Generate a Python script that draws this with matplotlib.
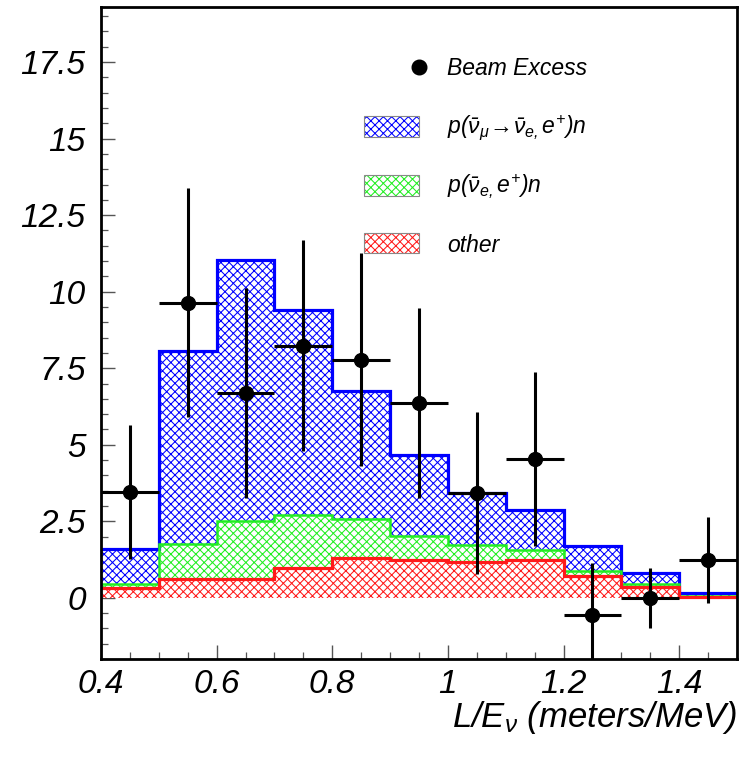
import numpy as np
import matplotlib
matplotlib.use('Agg')
import matplotlib.pyplot as plt
from matplotlib.patches import Rectangle
from matplotlib.lines import Line2D
from matplotlib.ticker import MultipleLocator

plt.rcParams['font.family'] = ['Liberation Sans', 'DejaVu Sans']
plt.rcParams['font.style'] = 'italic'
plt.rcParams['mathtext.fontset'] = 'custom'
plt.rcParams['mathtext.it'] = 'Liberation Sans:italic'
plt.rcParams['mathtext.rm'] = 'Liberation Sans:italic'
plt.rcParams['mathtext.sf'] = 'Liberation Sans:italic'
plt.rcParams['hatch.linewidth'] = 0.75
plt.rcParams['axes.unicode_minus'] = False

# ==========================================
# Data
# ==========================================
bin_edges = [0.4, 0.5, 0.6, 0.7, 0.8, 0.9, 1.0, 1.1, 1.2, 1.3, 1.4, 1.5]
# stacked totals per bin
total_osc = [1.60, 8.05, 11.05, 9.40, 6.75, 4.65, 3.43, 2.88, 1.70, 0.82, 0.16]
nue_plus_other = [0.46, 1.76, 2.52, 2.72, 2.58, 2.03, 1.73, 1.57, 0.88, 0.46, 0.05]
other_bkg = [0.33, 0.62, 0.60, 0.98, 1.30, 1.22, 1.18, 1.22, 0.72, 0.35, 0.02]

x_centers = [0.45, 0.55, 0.65, 0.75, 0.85, 0.95, 1.05, 1.15, 1.25, 1.35, 1.45]
beam_excess = [3.46, 9.64, 6.70, 8.24, 7.78, 6.37, 3.43, 4.54, -0.55, -0.02, 1.24]
excess_err = [2.20, 3.75, 3.43, 3.46, 3.48, 3.10, 2.65, 2.84, 1.70, 0.98, 1.40]
bin_half = [0.05] * len(x_centers)

legend_labels = ['Beam Excess',
                 r'$p(\bar{\nu}_{\mu}\!\rightarrow\!\bar{\nu}_{e,}e^{+})n$',
                 r'$p(\bar{\nu}_{e,}e^{+})n$',
                 'other']

blue = '#0000ff'
green = '#22ee22'
red = '#ff1a1a'

# ==========================================
# Figure
# ==========================================
W, H = 747, 759
fig = plt.figure(figsize=(W / 100, H / 100), dpi=100)
ax = fig.add_axes([101 / W, 1 - 659 / H, 636 / W, 652 / H])

# hatched stacked histograms (drawn back to front)
hists = [(total_osc, blue, 2.3), (nue_plus_other, green, 1.8), (other_bkg, red, 2.3)]
for vals, col, lw in hists:
    ax.stairs(vals, bin_edges, baseline=0, fill=True, facecolor='white',
              edgecolor=col, hatch='xxxx', linewidth=0, zorder=2)
for vals, col, lw in hists:
    ax.stairs(vals, bin_edges, baseline=None, fill=False, color=col,
              linewidth=lw, zorder=3)

# data points
ax.errorbar(x_centers, beam_excess, yerr=excess_err, xerr=bin_half, fmt='o',
            color='black', markersize=10, elinewidth=2.2, capsize=0, zorder=5)

ax.set_xlim(0.4, 1.5)
ax.set_ylim(-2.0, 19.3)
ax.xaxis.set_major_locator(MultipleLocator(0.2))
ax.xaxis.set_minor_locator(MultipleLocator(0.05))
ax.yaxis.set_major_locator(MultipleLocator(2.5))
ax.yaxis.set_minor_locator(MultipleLocator(0.5))
ax.xaxis.set_major_formatter(plt.FuncFormatter(lambda v, p: f'{v:g}'))
ax.yaxis.set_major_formatter(plt.FuncFormatter(lambda v, p: f'{v:g}'))
ax.tick_params(axis='both', which='both', direction='in', top=False, right=False,
               labelsize=24, color='#555555')
ax.tick_params(axis='both', which='major', length=10, width=1.0)
ax.tick_params(axis='both', which='minor', length=5, width=0.9)
ax.tick_params(axis='x', which='major', pad=7)
ax.tick_params(axis='y', which='major', pad=11)
for sp in ax.spines.values():
    sp.set_linewidth(2.0)
    sp.set_zorder(6)

ax.set_xlabel(r'$L/E_{\nu}$ (meters/MeV)', fontsize=25, ha='right')
ax.xaxis.set_label_coords(1.0, -0.062)

# ==========================================
# Legend (placed by hand, ROOT style)
# ==========================================
def fx(px):
    return px / W

def fy(py):
    return 1 - py / H

fig.add_artist(Line2D([fx(419)], [fy(67)], marker='o', color='black',
                      markersize=10.5, linestyle='none'))
for (top, bot), col in zip([(116, 137), (175, 196), (233, 253)], [blue, green, red]):
    fig.add_artist(Rectangle((fx(364), fy(bot)), fx(419) - fx(364), fy(top) - fy(bot),
                             facecolor='white', edgecolor=col, hatch='xxxx',
                             linewidth=0))
    fig.add_artist(Rectangle((fx(364), fy(bot)), fx(419) - fx(364), fy(top) - fy(bot),
                             facecolor='none', edgecolor='#888888', linewidth=0.8))
for lab, base in zip(legend_labels, [75, 134, 193, 252]):
    fig.text(fx(447), fy(base), lab, fontsize=16.5, va='baseline', ha='left')

fig.savefig('out.png', dpi=100)
